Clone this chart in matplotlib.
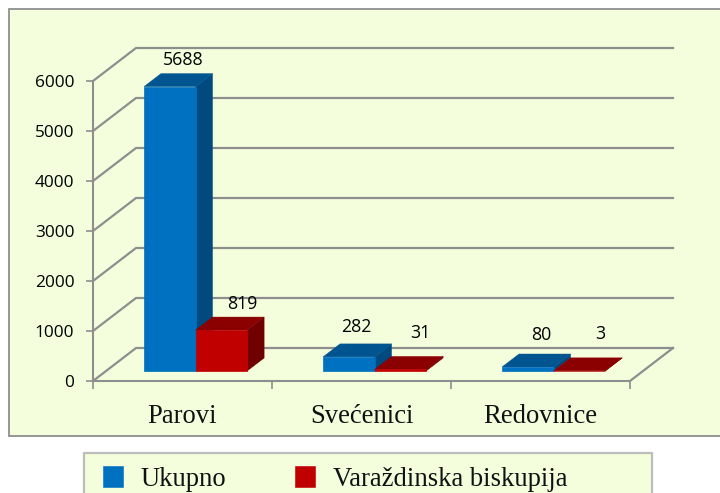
import matplotlib
matplotlib.use("Agg")
import matplotlib.pyplot as plt
from matplotlib.patches import Polygon, Rectangle, Patch
from matplotlib.transforms import Affine2D

categories = ["Parovi", "Svećenici", "Redovnice"]
ukupno = [5688, 282, 80]
varazdinska = [819, 31, 3]
series_names = ["Ukupno", "Varaždinska biskupija"]
y_ticks = [0, 1000, 2000, 3000, 4000, 5000, 6000]

W, H = 720, 493
PANEL = "#F4FEDC"
GRID = "#8E8E8E"
SERIF = "Liberation Serif"
SANS = "Open Sans"

fig = plt.figure(figsize=(W / 100, H / 100), dpi=100, facecolor="white")
px = Affine2D().scale(1, -1).translate(0, H)

fig.add_artist(Rectangle((8.5, 9), 712, 427, transform=px, fc=PANEL, ec="#8F8F8F", lw=1.3, zorder=-2))
fig.add_artist(Rectangle((84, 453), 568, 60, transform=px, fc=PANEL, ec="#BDBDBD", lw=1.6, zorder=-2))

ax = fig.add_axes([93 / W, (H - 381) / H, 537 / W, 300 / H])
ax.patch.set_visible(False)
ax.set_xlim(0, 3)
ax.set_ylim(0, 6000)
for s in ("top", "right"):
    ax.spines[s].set_visible(False)
for s in ("left", "bottom"):
    ax.spines[s].set_color(GRID)
    ax.spines[s].set_linewidth(1.5)
    ax.spines[s].set_zorder(1)

ax.set_yticks(y_ticks)
ax.set_yticklabels([str(t) for t in y_ticks], family=SANS, fontsize=12.4, color="black")
ax.tick_params(axis="y", length=5, width=1.2, color=GRID, pad=8.5)
ax.set_xticks(range(len(categories) + 1))
ax.set_xticklabels([])
ax.tick_params(axis="x", which="major", length=6, width=1.2, color=GRID)
ax.set_xticks([i + 0.5 for i in range(len(categories))], minor=True)
ax.set_xticklabels(categories, minor=True, family=SERIF, fontsize=19.2, color="#111111")
ax.tick_params(axis="x", which="minor", length=0, pad=16.5)

# 3D depth of walls and bars, in data units
WALL_DX, WALL_DY = 43 / 179, 660
BAR_DX, BAR_DY = 17 / 179, 260
BASE = 200
BAR_W, BAR_START = 0.288, 0.285

xmax = len(categories)
for t in y_ticks:
    ax.plot([0, WALL_DX, xmax + WALL_DX], [t, t + WALL_DY, t + WALL_DY],
            color=GRID, lw=1.6, clip_on=False, zorder=1, solid_joinstyle="miter")
ax.plot([xmax, xmax + WALL_DX], [0, WALL_DY], color=GRID, lw=1.6, clip_on=False, zorder=1)


def bar3d(x, v, front, top, side, z):
    y0, y1 = BASE, BASE + v
    x1 = x + BAR_W
    ax.add_patch(Polygon([(x1, y0), (x1 + BAR_DX, y0 + BAR_DY), (x1 + BAR_DX, y1 + BAR_DY), (x1, y1)],
                         fc=side, ec=side, lw=0.3, clip_on=False, zorder=z))
    ax.add_patch(Polygon([(x, y1), (x + BAR_DX, y1 + BAR_DY), (x1 + BAR_DX, y1 + BAR_DY), (x1, y1)],
                         fc=top, ec=top, lw=0.3, clip_on=False, zorder=z))
    ax.add_patch(Rectangle((x, y0), BAR_W, v, fc=front, ec=front, lw=0.5,
                           clip_on=False, zorder=z + 0.1))


for i in range(len(categories)):
    bar3d(i + BAR_START, ukupno[i], "#0070C0", "#005590", "#004A80", 3)
    bar3d(i + BAR_START + BAR_W, varazdinska[i], "#C00000", "#8B0000", "#700000", 4)

# value labels: offset from the bar's front-centre top, in pixels
blue_off = [(13, 27), (8, 30), (13, 32)]
red_off = [(21, 26), (20, 36), (21, 37)]
for i in range(len(categories)):
    for vals, off, shift in ((ukupno, blue_off, 0), (varazdinska, red_off, 1)):
        v = vals[i]
        ax.annotate(str(v), (i + BAR_START + BAR_W * (shift + 0.5), BASE + v),
                    xytext=(off[i][0] * 0.72, off[i][1] * 0.72), textcoords="offset points",
                    ha="center", va="center", family=SANS, fontsize=12.8, color="black",
                    annotation_clip=False, zorder=6)

handles = [Patch(fc="#0070C0", ec="#0070C0", lw=0.4), Patch(fc="#C00000", ec="#C00000", lw=0.4)]
fig.legend(handles, series_names, loc="lower left", bbox_to_anchor=(96 / W, -5.5 / H), ncol=2, frameon=False,
           prop={"family": SERIF, "size": 19.2}, handlelength=0.75, handleheight=0.8,
           handletextpad=0.67, columnspacing=2.58, borderpad=0.25, borderaxespad=0, labelcolor="#111111")

fig.savefig("out.png", dpi=100, facecolor="white")
